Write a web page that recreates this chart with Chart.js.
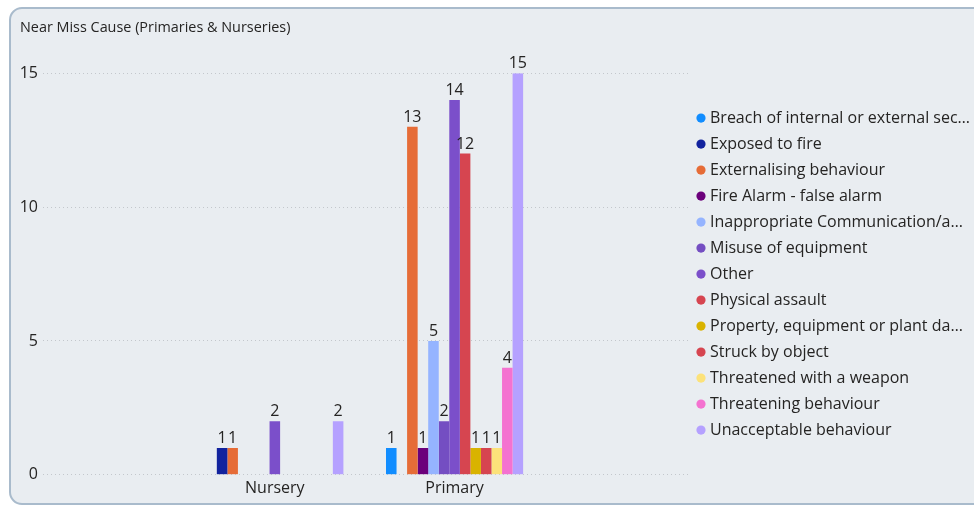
<!DOCTYPE html>
<html>
<head>
<meta charset="utf-8">
<script src="https://cdn.jsdelivr.net/npm/chart.js@4.4.1/dist/chart.umd.min.js"></script>
<style>
  html, body { margin: 0; padding: 0; background: #ffffff; width: 974px; height: 507px; overflow: hidden; }
  #card { position: absolute; left: 9px; top: 7px; width: 1010px; height: 498px; box-sizing: border-box;
          border: 2px solid #A9BBCC; border-radius: 13px; background: #E9EDF1; }
  #c { position: absolute; left: 0; top: 0; }
</style>
</head>
<body>
<div id="card"></div>
<canvas id="c" width="974" height="507"></canvas>
<script>
// ---- data ----
const chartTitle = 'Near Miss Cause (Primaries & Nurseries)';
const categories = ['Nursery', 'Primary'];
const seriesNames = [
  'Breach of internal or external sec…',
  'Exposed to fire',
  'Externalising behaviour',
  'Fire Alarm - false alarm',
  'Inappropriate Communication/a…',
  'Misuse of equipment',
  'Other',
  'Physical assault',
  'Property, equipment or plant da…',
  'Struck by object',
  'Threatened with a weapon',
  'Threatening behaviour',
  'Unacceptable behaviour'
];
// values per series, in the order of seriesNames (null = no bar)
const nurseryValues = [null, 1, 1, null, null, null, 2, null, null, null, null, null, 2];
const primaryValues = [1, null, 13, 1, 5, 2, 14, 12, 1, 1, 1, 4, 15];
const yTicks = [0, 5, 10, 15];
const seriesColors = [
  '#118DFF', '#12239E', '#E66C37', '#6B007B', '#95B4FF', '#744EC2', '#7B4FCA',
  '#D64550', '#D9B300', '#D64550', '#FCE27A', '#F472D0', '#B5A1FF'
];

const FONT = '"Open Sans", "Noto Sans", sans-serif';
const TEXT = '#252423';
const X_MIN = -1.29, X_MAX = 2.31;

const datasets = seriesNames.map((name, s) => ({
  label: name,
  data: [nurseryValues[s], primaryValues[s]].map((v, i) => ({ x: i, y: v })),
  backgroundColor: seriesColors[s],
  borderWidth: 0,
  categoryPercentage: 0.763,
  barPercentage: 1.0
}));

const valueLabels = {
  id: 'valueLabels',
  afterDatasetsDraw(chart) {
    const ctx = chart.ctx;
    ctx.save();
    ctx.font = '16px ' + FONT;
    ctx.fillStyle = TEXT;
    ctx.textAlign = 'center';
    ctx.textBaseline = 'alphabetic';
    chart.data.datasets.forEach((ds, di) => {
      const meta = chart.getDatasetMeta(di);
      meta.data.forEach((el, i) => {
        const v = ds.data[i].y;
        if (v === null || v === undefined) return;
        ctx.fillText(String(v), el.x, el.y - 5);
      });
    });
    ctx.restore();
  }
};

new Chart(document.getElementById('c'), {
  type: 'bar',
  data: { datasets },
  options: {
    responsive: false,
    animation: false,
    layout: { padding: { left: 20, right: 0, top: 11, bottom: 5 } },
    scales: {
      x: {
        type: 'linear',
        offset: false,
        bounds: 'data',
        min: X_MIN,
        max: X_MAX,
        afterDataLimits(scale) { scale.min = X_MIN; scale.max = X_MAX; },
        grid: { display: false, drawTicks: false, offset: false },
        border: { display: false },
        afterBuildTicks(scale) { scale.ticks = categories.map((c, i) => ({ value: i })); },
        ticks: {
          autoSkip: false,
          maxRotation: 0,
          padding: 4,
          color: TEXT,
          font: { size: 16, family: FONT },
          callback: (v) => categories[v]
        }
      },
      y: {
        min: 0,
        max: 15,
        afterBuildTicks(scale) { scale.ticks = yTicks.map(v => ({ value: v })); },
        afterFit(scale) { scale.width = 23; },
        grid: { color: '#C3C7CC', lineWidth: 1, drawTicks: false },
        border: { display: false, dash: [1, 3] },
        ticks: { padding: 5, color: TEXT, font: { size: 16, family: FONT } }
      }
    },
    plugins: {
      title: {
        display: true,
        text: chartTitle,
        align: 'start',
        color: TEXT,
        font: { size: 14.4, family: FONT, weight: 'normal' },
        padding: { top: 8, bottom: 37 }
      },
      legend: {
        position: 'right',
        fullSize: false,
        maxWidth: 284,
        labels: {
          usePointStyle: true,
          pointStyle: 'circle',
          boxWidth: 2,
          boxHeight: 6.5,
          padding: 10,
          color: TEXT,
          font: { size: 16, family: FONT }
        }
      },
      tooltip: { enabled: false }
    }
  },
  plugins: [valueLabels]
});
</script>
</body>
</html>
